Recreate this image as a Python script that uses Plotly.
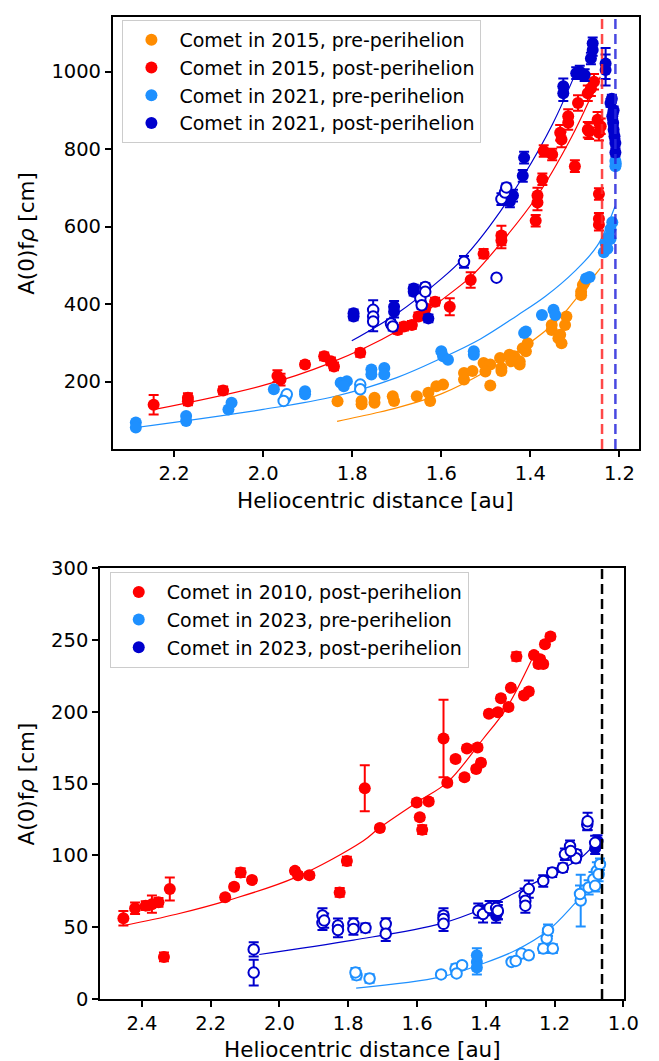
import plotly.graph_objects as go

# ---------------- colours ----------------
ORANGE = "#ff8c00"
RED = "#ff0000"
LBLUE = "#1e90ff"
DBLUE = "#0000cd"

# ================= upper panel: 2015 and 2021 apparitions =================
# 2015, pre-perihelion (filled)
o15_r = [1.833, 1.779, 1.779, 1.750, 1.750, 1.709, 1.706, 1.655, 1.629, 1.625, 1.611, 1.596,
         1.549, 1.549, 1.530, 1.505, 1.490, 1.490, 1.468, 1.465, 1.465, 1.447, 1.436, 1.424,
         1.424, 1.417, 1.410, 1.406, 1.352, 1.352, 1.333, 1.337, 1.322, 1.319, 1.330, 1.286,
         1.286, 1.282, 1.278, 1.501, 1.443]
o15_a = [149, 141, 150, 158, 145, 162, 150, 162, 171, 150, 188, 192,
         205, 222, 227, 248, 244, 190, 261, 235, 227, 269, 265, 252,
         244, 286, 278, 299, 333, 346, 321, 312, 346, 368, 299, 432,
         423, 449, 457, 226, 252]

# 2015, post-perihelion (filled, with uncertainties)
r15_r = [2.246, 2.169, 2.169, 2.090, 1.968, 1.961, 1.906, 1.863, 1.848, 1.841, 1.782, 1.698,
         1.684, 1.666, 1.651, 1.636, 1.614, 1.581, 1.534, 1.505, 1.465, 1.465, 1.388, 1.384,
         1.384, 1.373, 1.370, 1.351, 1.330, 1.333, 1.315, 1.315, 1.300, 1.293, 1.271, 1.264,
         1.257, 1.271, 1.249, 1.246, 1.242, 1.246, 1.246, 1.246, 1.268]
r15_a = [140, 158, 149, 177, 214, 205, 244, 265, 252, 239, 274, 333,
         342, 346, 368, 389, 406, 393, 462, 530, 577, 564, 615, 662,
         680, 722, 795, 786, 825, 842, 868, 885, 756, 919, 944, 957,
         974, 850, 876, 842, 859, 684, 620, 605, 846]
r15_e = [25, 12, 10, 10, 15, 15, 8, 10, 10, 10, 10, 10,
         10, 10, 10, 10, 10, 22, 20, 12, 25, 20, 15, 20,
         20, 15, 15, 15, 20, 20, 18, 18, 15, 20, 20, 20,
         20, 20, 20, 20, 20, 15, 15, 15, 20]

# 2021, pre-perihelion (filled / open)
b21_r = [2.286, 2.286, 2.173, 2.173, 2.078, 2.071, 1.976, 1.906, 1.906, 1.826, 1.812, 1.819,
         1.757, 1.757, 1.728, 1.728, 1.600, 1.596, 1.585, 1.527, 1.527, 1.414, 1.410, 1.374,
         1.348, 1.344, 1.275, 1.267, 1.235, 1.231, 1.224, 1.220, 1.220, 1.216, 1.227, 1.209,
         1.209, 1.208]
b21_a = [94, 81, 111, 98, 128, 145, 180, 175, 167, 197, 201, 188,
         231, 218, 235, 218, 278, 265, 256, 269, 278, 325, 329, 372,
         385, 372, 466, 470, 534, 556, 573, 594, 568, 611, 543, 756,
         769, 762]
b21o_r = [1.950, 1.947, 1.954, 1.782, 1.782]
b21o_a = [158, 167, 150, 192, 180]

# 2021, post-perihelion (filled / open)
d21_r = [1.797, 1.797, 1.706, 1.706, 1.662, 1.662, 1.629, 1.446, 1.439, 1.417, 1.414, 1.326,
         1.326, 1.297, 1.289, 1.278, 1.264, 1.260, 1.260, 1.231, 1.231, 1.220, 1.216, 1.214,
         1.213, 1.211, 1.209, 1.209, 1.213, 1.217]
d21_a = [368, 376, 393, 380, 432, 440, 363, 665, 680, 731, 778, 962,
         944, 996, 1000, 991, 1034, 1056, 1073, 1021, 1004, 919, 885, 868,
         850, 833, 816, 791, 900, 930]
d21_e = [10, 10, 15, 15, 10, 10, 10, 15, 15, 15, 15, 20,
         20, 15, 15, 15, 15, 15, 15, 40, 40, 10, 10, 10,
         10, 10, 10, 10, 10, 10]
d21o_r = [1.753, 1.753, 1.713, 1.709, 1.647, 1.644, 1.636, 1.636, 1.549, 1.476, 1.465, 1.457,
          1.454, 1.753]
d21o_a = [385, 368, 350, 342, 415, 397, 444, 432, 509, 468, 671, 688, 701, 355]
d21o_e = [25, 20, 10, 10, 10, 10, 10, 10, 15, 0, 15, 10, 10, 25]

# fitted activity curves (upper panel)
fit_o15_r = [1.834, 1.75, 1.70, 1.60, 1.50, 1.418, 1.337, 1.293, 1.243]
fit_o15_a = [97, 118, 132, 168, 226, 286, 360, 420, 492]
fit_r15_r = [2.244, 2.0, 1.856, 1.70, 1.60, 1.534, 1.49, 1.387, 1.308, 1.26, 1.243]
fit_r15_a = [128, 190, 245, 330, 410, 470, 525, 675, 830, 945, 987]
fit_b21_r = [2.294, 2.0, 1.838, 1.70, 1.60, 1.512, 1.43, 1.366, 1.30, 1.25, 1.21]
fit_b21_a = [80, 128, 162, 210, 260, 310, 370, 420, 485, 550, 652]
fit_d21_r = [1.801, 1.70, 1.60, 1.549, 1.49, 1.418, 1.35, 1.297]
fit_d21_a = [305, 375, 465, 520, 603, 726, 865, 1000]

perihelion_2015 = 1.239
perihelion_2021 = 1.209

# ================= lower panel: 2010 and 2023 apparitions =================
r10_r = [2.454, 2.420, 2.389, 2.371, 2.352, 2.336, 2.319, 2.158, 2.132, 2.113, 2.080, 1.955,
         1.946, 1.913, 1.825, 1.804, 1.752, 1.708, 1.601, 1.566, 1.592, 1.585, 1.523, 1.512,
         1.488, 1.455, 1.424, 1.462, 1.428, 1.414, 1.391, 1.365, 1.356, 1.334, 1.327, 1.289,
         1.275, 1.311, 1.260, 1.247, 1.233, 1.242, 1.228, 1.212]
r10_a = [56.2, 63.2, 65, 66, 67.3, 29.3, 76.5, 70.8, 78.1, 88, 82.8, 89.2,
         86.2, 86.2, 74.2, 96.1, 146.7, 119.1, 136.8, 137.5, 126.5, 117.9, 181.3, 150.5,
         167, 174.4, 175.1, 154.4, 160.1, 164.5, 198.6, 199.7, 209.4, 203.2, 216.6, 211.3,
         214, 238.4, 239.4, 233.2, 233.2, 236.6, 247, 252.3]
r10_e = [5, 4, 3, 6, 3, 3, 8, 2, 2, 3, 2, 2,
         2, 2, 3, 3, 16, 2, 2, 2, 2, 3, 27, 2,
         2, 2, 2, 2, 2, 2, 2, 2, 2, 2, 2, 2,
         2, 3, 2, 2, 2, 2, 2, 2]

b23o_r = [1.776, 1.738, 1.530, 1.488, 1.469, 1.485, 1.325, 1.296, 1.275, 1.313, 1.223, 1.219,
          1.233, 1.205, 1.124, 1.126, 1.101, 1.087, 1.077, 1.068, 1.082, 1.072, 1.779]
b23o_a = [16.6, 14.3, 17.1, 21.2, 23.5, 17.8, 25.8, 31.6, 30.4, 26.5, 42.2, 47.9,
          35.1, 35.1, 68.5, 73.1, 77.7, 83.4, 89.2, 93.8, 78.8, 86.9, 18.5]
b23o_e = [3, 3, 2, 3, 2, 2, 2, 2, 2, 2, 4, 4,
          3, 3, 18, 6, 5, 5, 6, 4, 4, 5, 3]
b23_r = [1.426, 1.426, 1.426]
b23_a = [25.8, 30.4, 22.0]
b23_e = [6, 5, 5]

d23o_r = [2.075, 2.075, 1.875, 1.875, 1.830, 1.830, 1.785, 1.785, 1.750, 1.691, 1.691, 1.523,
          1.523, 1.523, 1.422, 1.408, 1.389, 1.370, 1.365, 1.287, 1.285, 1.285, 1.275, 1.233,
          1.207, 1.176, 1.170, 1.155, 1.136, 1.105, 1.104, 1.082, 1.138, 1.153, 1.870]
d23o_a = [34.5, 18.4, 58.1, 53, 51.1, 48, 52.3, 48.8, 49.5, 52.3, 45.4, 58.1,
          55.7, 52.3, 61.5, 59.2, 63.3, 63.3, 61.5, 71.9, 68.4, 65, 76.5, 82.2,
          88, 91.4, 100.7, 106.4, 100.7, 121.4, 123.7, 108.7, 98, 103, 54.6]
d23o_e = [5, 9, 5, 5, 5, 5, 4, 4, 3, 4, 5, 5,
          5, 5, 5, 6, 5, 5, 6, 5, 5, 5, 6, 4,
          3, 3, 4, 4, 3, 4, 6, 5, 3, 3, 5]
d23_r = [1.370, 1.365, 1.082, 1.075]
d23_a = [58, 60.5, 105, 110]
d23_e = [5, 5, 4, 4]

fit_r10_r = [2.456, 2.30, 2.145, 1.955, 1.757, 1.71, 1.596, 1.511, 1.408, 1.341, 1.267]
fit_r10_a = [51, 59, 69, 84.5, 110, 119, 137.6, 151, 181, 202, 236]
fit_d23_r = [2.059, 1.785, 1.53, 1.408, 1.285, 1.219, 1.125, 1.083]
fit_d23_a = [31, 41, 52.5, 63, 77.6, 85.7, 98, 108]
fit_b23_r = [1.777, 1.53, 1.408, 1.313, 1.219, 1.143, 1.075]
fit_b23_a = [7.6, 15.4, 24.7, 33.9, 47.7, 66, 85]

perihelion_2023 = 1.062

# ---------------- helpers ----------------
MS = 12


def fit_line(x, y, color, xa, ya):
    return go.Scatter(x=x, y=y, mode="lines", line=dict(color=color, width=1.2, shape="spline"),
                      xaxis=xa, yaxis=ya, showlegend=False, hoverinfo="skip")


def points(x, y, err, color, xa, ya, name=None, legend=None, hollow=False):
    marker = dict(size=MS if not hollow else 10.5, color="white" if hollow else color,
                  line=dict(color=color, width=2 if hollow else 0))
    tr = go.Scatter(x=x, y=y, mode="markers", marker=marker, xaxis=xa, yaxis=ya,
                    name=name or "", showlegend=name is not None, hoverinfo="skip")
    if err is not None:
        tr.error_y = dict(type="data", array=err, visible=True, color=color, thickness=2, width=5)
    if legend:
        tr.legend = legend
    return tr


fig = go.Figure()

# upper panel
for fx, fy, c in [(fit_o15_r, fit_o15_a, ORANGE), (fit_r15_r, fit_r15_a, RED),
                  (fit_b21_r, fit_b21_a, LBLUE), (fit_d21_r, fit_d21_a, DBLUE)]:
    fig.add_trace(fit_line(fx, fy, c, "x", "y"))

fig.add_trace(points(o15_r, o15_a, None, ORANGE, "x", "y", "Comet in 2015, pre-perihelion", "legend"))
fig.add_trace(points(r15_r, r15_a, r15_e, RED, "x", "y", "Comet in 2015, post-perihelion", "legend"))
fig.add_trace(points(b21_r, b21_a, None, LBLUE, "x", "y", "Comet in 2021, pre-perihelion", "legend"))
fig.add_trace(points(b21o_r, b21o_a, None, LBLUE, "x", "y", hollow=True))
fig.add_trace(points(d21_r, d21_a, d21_e, DBLUE, "x", "y", "Comet in 2021, post-perihelion", "legend"))
fig.add_trace(points(d21o_r, d21o_a, d21o_e, DBLUE, "x", "y", hollow=True))

# lower panel
for fx, fy, c in [(fit_r10_r, fit_r10_a, RED), (fit_b23_r, fit_b23_a, LBLUE),
                  (fit_d23_r, fit_d23_a, DBLUE)]:
    fig.add_trace(fit_line(fx, fy, c, "x2", "y2"))

fig.add_trace(points(r10_r, r10_a, r10_e, RED, "x2", "y2", "Comet in 2010, post-perihelion", "legend2"))
fig.add_trace(points(b23_r, b23_a, b23_e, LBLUE, "x2", "y2", "Comet in 2023, pre-perihelion", "legend2"))
fig.add_trace(points(b23o_r, b23o_a, b23o_e, LBLUE, "x2", "y2", hollow=True))
fig.add_trace(points(d23_r, d23_a, d23_e, DBLUE, "x2", "y2", "Comet in 2023, post-perihelion", "legend2"))
fig.add_trace(points(d23o_r, d23o_a, d23o_e, DBLUE, "x2", "y2", hollow=True))

# perihelion markers
for xv, c, xr, yr in [(perihelion_2015, "rgba(255,40,40,0.85)", "x", "y domain"),
                      (perihelion_2021, "rgba(40,40,220,0.85)", "x", "y domain"),
                      (perihelion_2023, "black", "x2", "y2 domain")]:
    fig.add_shape(type="line", x0=xv, x1=xv, y0=0, y1=1, xref=xr, yref=yr,
                  line=dict(color=c, width=2.5, dash="10px,5px"), layer="above")

FONT = "DejaVu Sans"
TICKFONT = dict(family=FONT, size=19.5, color="black")
axis_common = dict(showline=True, linecolor="black", linewidth=1.5, mirror=True,
                   ticks="outside", ticklen=6, tickwidth=1.5, tickcolor="black",
                   showgrid=False, zeroline=False, tickfont=TICKFONT)

L, R, T, B = 100, 6, 10, 62
W, H = 659, 1061
PW, PH = W - L - R, H - T - B


def px_x(p):
    return (p - L) / PW


def px_y(p):
    return (H - B - p) / PH


fig.update_layout(
    width=W, height=H,
    margin=dict(l=L, r=R, t=T, b=B),
    paper_bgcolor="white", plot_bgcolor="white",
    font=dict(family=FONT, color="black"),
    xaxis=dict(axis_common, domain=[px_x(113), px_x(653)], range=[2.338, 1.156],
               tickvals=[2.2, 2.0, 1.8, 1.6, 1.4, 1.2], ticktext=["2.2", "2.0", "1.8", "1.6", "1.4", "1.2"],
               anchor="y"),
    yaxis=dict(axis_common, domain=[px_y(445), px_y(10)], range=[26, 1141],
               tickvals=[200, 400, 600, 800, 1000], anchor="x"),
    xaxis2=dict(axis_common, domain=[px_x(100), px_x(638)], range=[2.522, 0.997],
                tickvals=[2.4, 2.2, 2.0, 1.8, 1.6, 1.4, 1.2, 1.0],
                ticktext=["2.4", "2.2", "2.0", "1.8", "1.6", "1.4", "1.2", "1.0"], anchor="y2"),
    yaxis2=dict(axis_common, domain=[px_y(999), px_y(565)], range=[0, 300],
                tickvals=[0, 50, 100, 150, 200, 250, 300], anchor="x2"),
    legend=dict(x=px_x(123), y=px_y(13), xanchor="left", yanchor="top",
                bgcolor="rgba(255,255,255,0.8)", bordercolor="#cccccc", borderwidth=1,
                font=dict(family=FONT, size=19, color="black"), itemwidth=46,
                tracegroupgap=0),
    legend2=dict(x=px_x(110), y=px_y(569), xanchor="left", yanchor="top",
                 bgcolor="rgba(255,255,255,0.8)", bordercolor="#cccccc", borderwidth=1,
                 font=dict(family=FONT, size=19, color="black"), itemwidth=46,
                 tracegroupgap=0),
)

LABEL = dict(family=FONT, size=21.5, color="black")
for txt, x, y, ang in [
    ("Heliocentric distance [au]", px_x(383), px_y(497), 0),
    ("Heliocentric distance [au]", px_x(369), px_y(1050), 0),
    ("A(0)f<i>ρ</i> [cm]", px_x(25), px_y(227.5), -90),
    ("A(0)f<i>ρ</i> [cm]", px_x(25), px_y(782), -90),
]:
    fig.add_annotation(text=txt, x=x, y=y, xref="paper", yref="paper", showarrow=False,
                       textangle=ang, font=LABEL, xanchor="center", yanchor="middle")

fig.write_html("out.html")
